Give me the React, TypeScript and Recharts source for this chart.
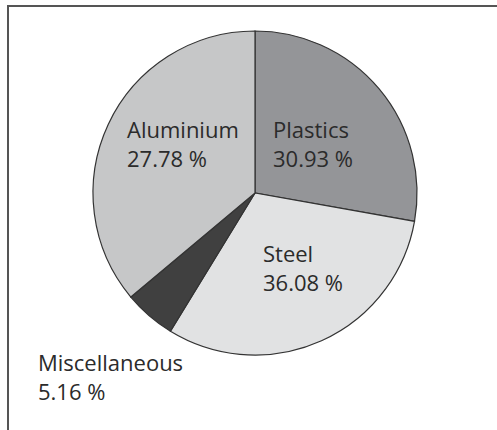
import { PieChart, Pie, Cell } from 'recharts';

// slices clockwise from 12 o'clock, sized as they are drawn in the picture
const materials = ['Plastics', 'Steel', 'Miscellaneous', 'Aluminium'];
const sliceShares = [27.78, 30.93, 5.16, 36.08];
// percentages as printed next to each name
const printedShares = [30.93, 36.08, 5.16, 27.78];

const COLORS: Record<string, string> = {
  Plastics: '#949598',
  Steel: '#e1e2e3',
  Miscellaneous: '#404040',
  Aluminium: '#c6c7c8',
};

// where each label's first line starts, relative to the pie centre
const LABEL_OFFSET: Record<string, { dx: number; dy: number }> = {
  Plastics: { dx: 18, dy: -55 },
  Steel: { dx: 8, dy: 69 },
  Miscellaneous: { dx: -217, dy: 178 },
  Aluminium: { dx: -128, dy: -55 },
};

const data = materials.map((name, i) => ({ name, value: sliceShares[i] }));

const FONT = '"Open Sans", sans-serif';

function renderLabel(props: any) {
  const { cx, cy, index } = props;
  const name = materials[index];
  const off = LABEL_OFFSET[name];
  const x = cx + off.dx;
  const y = cy + off.dy;
  return (
    <text x={x} y={y} fill="#2b2b2b" fontSize={22} fontFamily={FONT} textAnchor="start">
      <tspan x={x} y={y}>{name}</tspan>
      <tspan x={x} y={y + 29}>{printedShares[index].toFixed(2)} %</tspan>
    </text>
  );
}

export default function App() {
  return (
    <div style={{ position: 'absolute', left: 0, top: 0, width: 497, height: 430, background: '#fff' }}>
      <div
        style={{
          position: 'absolute',
          left: 7,
          top: 5,
          right: 0,
          bottom: 0,
          borderTop: '2px solid #555',
          borderLeft: '2px solid #555',
        }}
      />
      <PieChart
        width={497}
        height={430}
        margin={{ top: 0, right: 0, bottom: 0, left: 0 }}
        style={{ position: 'absolute', left: 0, top: 0 }}
      >
        <Pie
          data={data}
          dataKey="value"
          nameKey="name"
          cx={255}
          cy={193}
          outerRadius={162}
          startAngle={90}
          endAngle={-270}
          stroke="#333"
          strokeWidth={1.2}
          label={renderLabel}
          labelLine={false}
          isAnimationActive={false}
        >
          {data.map((d) => (
            <Cell key={d.name} fill={COLORS[d.name]} />
          ))}
        </Pie>
      </PieChart>
    </div>
  );
}
